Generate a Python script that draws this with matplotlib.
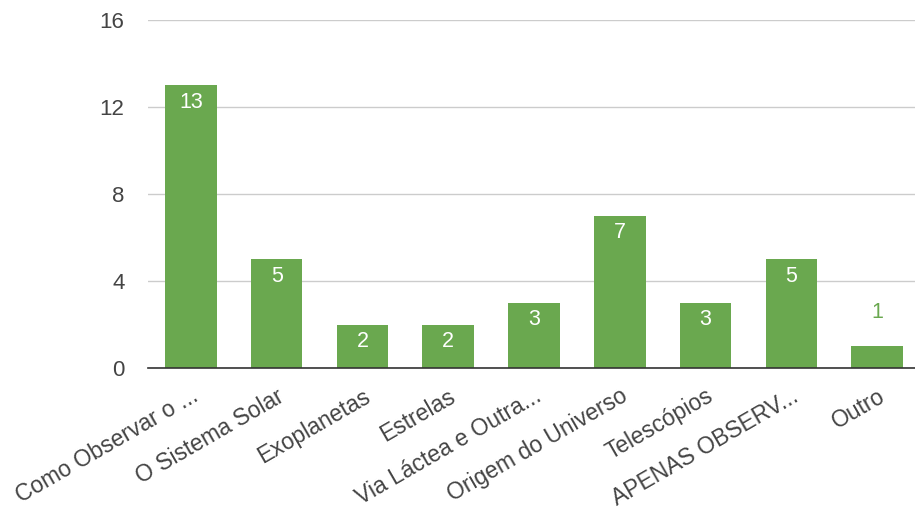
import matplotlib.pyplot as plt

plt.rcParams['font.family'] = ['Liberation Sans', 'DejaVu Sans']

temas = ['Como Observar o ...', 'O Sistema Solar', 'Exoplanetas', 'Estrelas',
         'Via Láctea e Outra...', 'Origem do Universo', 'Telescópios',
         'APENAS OBSERV...', 'Outro']
votos = [13, 5, 2, 2, 3, 7, 3, 5, 1]
yticks = [0, 4, 8, 12, 16]

verde = '#6aa84f'

fig = plt.figure(figsize=(9.15, 5.17), dpi=100)
ax = fig.add_axes([148 / 915, 1 - 368 / 517, (920 - 148) / 915, 348 / 517])

x = range(len(temas))
ax.bar(x, votos, width=0.6, color=verde, zorder=3)

for xi, v in zip(x, votos):
    if v >= 2:
        ax.text(xi, v - 0.3, str(v), ha='center', va='top', color='white',
                fontsize=15.5, zorder=4)
    else:
        ax.text(xi, v + 1.05, str(v), ha='center', va='bottom', color=verde,
                fontsize=15.5, zorder=4)

ax.set_xlim(-0.5, len(temas) - 0.5)
ax.set_ylim(0, 16)
ax.set_yticks(yticks)
ax.yaxis.grid(True, color='#cccccc', linewidth=1, zorder=0)
ax.set_axisbelow(True)
for s in ['top', 'right', 'left']:
    ax.spines[s].set_visible(False)
ax.spines['bottom'].set_color('#333333')
ax.spines['bottom'].set_linewidth(1.2)
ax.spines['bottom'].set_zorder(5)
ax.tick_params(axis='both', length=0, colors='#444444')
ax.tick_params(axis='y', labelsize=16, pad=17)
ax.set_xticks(list(x))
ax.set_xticklabels(temas, rotation=30, ha='right', va='top',
                   rotation_mode='anchor', fontsize=16.5)
ax.tick_params(axis='x', pad=12)

fig.savefig('out.png', dpi=100)
